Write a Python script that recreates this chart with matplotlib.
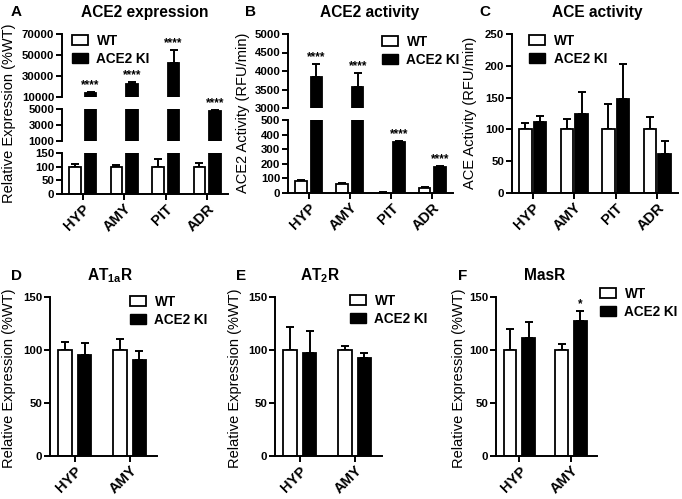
import matplotlib
matplotlib.use("Agg")
import matplotlib.pyplot as plt
from matplotlib.patches import Patch

plt.rcParams["font.family"] = ["Liberation Sans", "DejaVu Sans"]
plt.rcParams["mathtext.fontset"] = "custom"
plt.rcParams["mathtext.bf"] = "Liberation Sans:bold"
plt.rcParams["mathtext.rm"] = "Liberation Sans:bold"

W, H = 682, 499

# ---- data ----
regions4 = ["HYP", "AMY", "PIT", "ADR"]
regions2 = ["HYP", "AMY"]

a_wt = [100, 100, 100, 100]
a_wt_err = [8, 6, 28, 12]
a_ki = [14000, 22500, 42500, 4700]
a_ki_err = [1000, 1800, 12000, 250]
a_stars = ["****", "****", "****", "****"]

b_wt = [80, 65, 3, 35]
b_wt_err = [8, 6, 1, 5]
b_ki = [3840, 3560, 350, 180]
b_ki_err = [345, 390, 8, 8]
b_stars = ["****", "****", "****", "****"]

c_wt = [100, 100, 100, 100]
c_wt_err = [10, 17, 40, 20]
c_ki = [111, 124, 148, 62]
c_ki_err = [10, 35, 55, 20]

d_wt = [100, 100]
d_wt_err = [8, 10]
d_ki = [95, 91]
d_ki_err = [12, 8]

e_wt = [100, 100]
e_wt_err = [22, 4]
e_ki = [97, 92]
e_ki_err = [21, 5]

f_wt = [100, 100]
f_wt_err = [20, 6]
f_ki = [111, 127]
f_ki_err = [15, 10]
f_stars = ["", "*"]

fig = plt.figure(figsize=(W / 100, H / 100), dpi=100)


def px_axes(x0, y0, x1, y1):
    """axes from pixel box (top-left origin)."""
    return fig.add_axes([x0 / W, 1 - y1 / H, (x1 - x0) / W, (y1 - y0) / H])


def style(ax, bottom=True):
    for s in ("top", "right"):
        ax.spines[s].set_visible(False)
    ax.spines["left"].set_linewidth(1.4)
    ax.spines["bottom"].set_linewidth(1.4)
    ax.tick_params(axis="both", length=4.5, width=1.4, labelsize=8.2, pad=1)
    for lab in ax.get_yticklabels():
        lab.set_fontweight("bold")
    if bottom:
        for lab in ax.get_xticklabels():
            lab.set_fontweight("bold")
            lab.set_fontsize(10.5)
            lab.set_rotation(45)
            lab.set_ha("right")
            lab.set_rotation_mode("anchor")
    else:
        ax.spines["bottom"].set_visible(False)
        ax.tick_params(axis="x", bottom=False, labelbottom=False)


def draw_bars(ax, n, wt, wt_err, ki, ki_err, width, off):
    xs = list(range(n))
    ax.bar([x - off for x in xs], wt, width, color="white", edgecolor="black",
           linewidth=1.3, zorder=2)
    ax.bar([x + off for x in xs], ki, width, color="black", edgecolor="black",
           linewidth=1.3, zorder=2)
    ax.errorbar([x - off for x in xs], wt, yerr=[[0] * n, wt_err], fmt="none",
                ecolor="black", elinewidth=1.4, capsize=3, capthick=1.4, zorder=1)
    ax.errorbar([x + off for x in xs], ki, yerr=[[0] * n, ki_err], fmt="none",
                ecolor="black", elinewidth=1.4, capsize=3, capthick=1.4, zorder=1)


def stars(ax, off, ki, ki_err, labels, ylim):
    for i, s in enumerate(labels):
        y = ki[i] + ki_err[i]
        if s and ylim[0] <= y <= ylim[1]:
            ax.annotate(s, (i + off, y), xytext=(0, 0.5), textcoords="offset points",
                        ha="center", va="bottom", fontsize=8.5, fontweight="bold")


def legend(x, y):
    handles = [Patch(facecolor="white", edgecolor="black", linewidth=1.3),
               Patch(facecolor="black", edgecolor="black")]
    fig.legend(handles, ["WT", "ACE2 KI"], loc="upper left",
               bbox_to_anchor=(x / W, 1 - y / H), frameon=False, borderpad=0,
               borderaxespad=0, handlelength=1.2, handleheight=0.75,
               handletextpad=0.6, labelspacing=0.3,
               prop={"weight": "bold", "size": 9.8})


def heading(letter, lx, title, tx, y):
    fig.text(lx / W, 1 - y / H, letter, fontsize=11, fontweight="bold",
             ha="center", va="center")
    fig.text(tx / W, 1 - y / H, title, fontsize=11.2, fontweight="bold",
             ha="center", va="center")


def ylab(x, y, text):
    fig.text(x / W, 1 - y / H, text, rotation=90, fontsize=10.5,
             ha="center", va="center")


def broken_panel(x0, x1, segments, wt, wt_err, ki, ki_err, star_labels):
    n = len(regions4)
    width, off = 0.28, 0.19
    for k, (y0, y1, lim, ticks) in enumerate(segments):
        ax = px_axes(x0, y0, x1, y1)
        draw_bars(ax, n, wt, wt_err, ki, ki_err, width, off)
        ax.set_xlim(-0.5, n - 0.5)
        ax.set_ylim(*lim)
        ax.set_yticks(ticks)
        ax.set_xticks(range(n))
        ax.set_xticklabels(regions4)
        stars(ax, off, ki, ki_err, star_labels, lim)
        style(ax, bottom=(k == len(segments) - 1))


# ---- A ----
broken_panel(62, 228, [
    (34, 97, (10000, 70000), [10000, 30000, 50000, 70000]),
    (109, 141, (1000, 5000), [1000, 3000, 5000]),
    (153, 194, (0, 150), [0, 50, 100, 150]),
], a_wt, a_wt_err, a_ki, a_ki_err, a_stars)
legend(72, 34)
heading("A", 16, "ACE2 expression", 145, 12)
ylab(9, 113, "Relative Expression (%WT)")

# ---- B ----
broken_panel(288, 453, [
    (34, 108, (3000, 5000), [3000, 3500, 4000, 4500, 5000]),
    (120, 193, (0, 500), [0, 100, 200, 300, 400, 500]),
], b_wt, b_wt_err, b_ki, b_ki_err, b_stars)
legend(382, 35)
heading("B", 251, "ACE2 activity", 370, 12)
ylab(243, 113, "ACE2 Activity (RFU/min)")

# ---- C ----
ax = px_axes(512, 34, 678, 193)
draw_bars(ax, 4, c_wt, c_wt_err, c_ki, c_ki_err, 0.3, 0.18)
ax.set_xlim(-0.5, 3.5)
ax.set_ylim(0, 250)
ax.set_yticks([0, 50, 100, 150, 200, 250])
ax.set_xticks(range(4))
ax.set_xticklabels(regions4)
style(ax)
legend(529, 34)
heading("C", 485, "ACE activity", 597, 12)
ylab(470, 113, "ACE Activity (RFU/min)")


# ---- D, E, F ----
def small_panel(x0, x1, wt, wt_err, ki, ki_err, star_labels=None):
    ax = px_axes(x0, 297, x1, 456)
    draw_bars(ax, 2, wt, wt_err, ki, ki_err, 0.25, 0.18)
    ax.set_xlim(-0.45, 1.5)
    ax.set_ylim(0, 150)
    ax.set_yticks([0, 50, 100, 150])
    ax.set_xticks(range(2))
    ax.set_xticklabels(regions2)
    if star_labels:
        stars(ax, 0.18, ki, ki_err, star_labels, (0, 150))
    style(ax)
    return ax


small_panel(50, 157, d_wt, d_wt_err, d_ki, d_ki_err)
legend(130, 295)
heading("D", 17, r"AT$_{\mathbf{1a}}$R", 110, 276)
ylab(9, 378, "Relative Expression (%WT)")

small_panel(275, 382, e_wt, e_wt_err, e_ki, e_ki_err)
legend(350, 294)
heading("E", 241, r"AT$_{\mathbf{2}}$R", 320, 276)
ylab(235, 378, "Relative Expression (%WT)")

small_panel(496, 597, f_wt, f_wt_err, f_ki, f_ki_err, f_stars)
legend(600, 287)
heading("F", 463, "MasR", 545, 276)
ylab(459, 378, "Relative Expression (%WT)")

fig.savefig("out.png", dpi=100)
